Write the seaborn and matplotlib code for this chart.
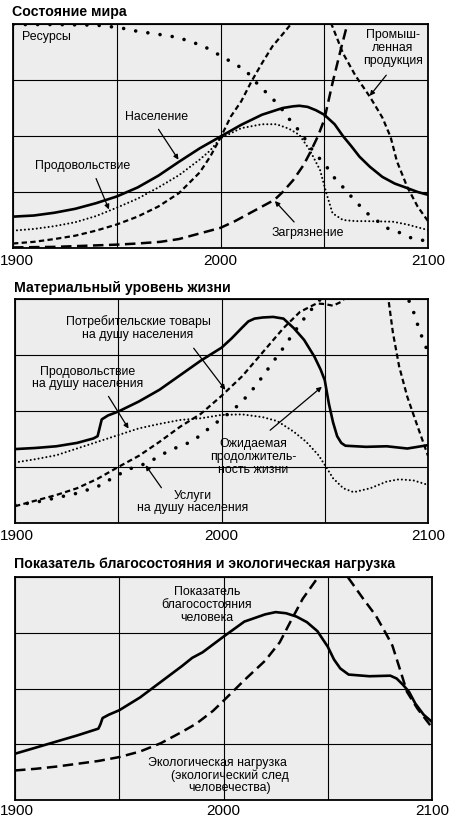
import matplotlib
matplotlib.use("Agg")
import matplotlib.pyplot as plt
import matplotlib.transforms as mtransforms
import seaborn as sns
import pandas as pd

# ---------------- data (grid units 0..4 on each panel) ----------------
# Panel 1: Состояние мира
pop_years = [1900,1910,1920,1930,1940,1950,1960,1970,1980,1990,2000,2010,2020,2030,2035,2038,2042,2046,2050,2055,2059,2063,2067,2072,2078,2084,2090,2095,2100]
pop_vals  = [0.56,0.58,0.63,0.70,0.80,0.92,1.08,1.29,1.54,1.78,1.99,2.20,2.38,2.50,2.53,2.54,2.52,2.46,2.38,2.21,2.00,1.82,1.63,1.45,1.27,1.15,1.07,1.00,0.95]

food_years = [1900,1910,1920,1930,1940,1950,1960,1970,1980,1990,1995,2000,2010,2020,2027,2033,2038,2043,2048,2051,2054,2059,2065,2070,2083,2090,2096,2100]
food_vals  = [0.31,0.34,0.39,0.46,0.57,0.72,0.88,1.08,1.30,1.58,1.74,1.96,2.14,2.21,2.21,2.13,2.02,1.75,1.39,0.98,0.62,0.50,0.48,0.48,0.47,0.42,0.36,0.32]

ind_years = [1900,1910,1920,1930,1940,1950,1960,1970,1980,1990,1995,2000,2005,2010,2015,2020,2025,2030,2034,2040,2046,2050,2054,2059,2065,2072,2078,2082,2085,2090,2095,2100]
ind_vals  = [0.08,0.11,0.16,0.22,0.31,0.42,0.56,0.74,0.98,1.35,1.63,1.97,2.35,2.62,2.98,3.30,3.60,3.82,4.00,4.50,4.60,4.30,3.95,3.48,3.08,2.70,2.33,1.98,1.55,1.09,0.74,0.48]

res_years = [1900,1920,1940,1950,1955,1961,1968,1974,1980,1986,1991,1996,2001,2006,2012,2016,2020,2025,2029,2032,2036,2040,2043,2047,2051,2054,2058,2062,2066,2070,2080,2086,2091,2097,2100]
res_vals  = [3.99,3.99,3.98,3.94,3.91,3.86,3.83,3.79,3.76,3.67,3.63,3.51,3.42,3.30,3.18,3.00,2.85,2.67,2.51,2.35,2.18,1.99,1.81,1.63,1.46,1.29,1.13,0.96,0.80,0.64,0.36,0.28,0.19,0.14,0.12]

pol_years = [1900,1920,1935,1950,1960,1971,1980,1990,2000,2007,2014,2020,2026,2030,2035,2040,2043,2047,2050,2054,2058,2061,2065]
pol_vals  = [0.01,0.02,0.04,0.06,0.08,0.11,0.16,0.26,0.36,0.48,0.62,0.74,0.86,1.00,1.21,1.48,1.69,2.00,2.29,2.95,3.55,3.98,4.60]

# Panel 2: Материальный уровень жизни
cg_years = [1900,1910,1920,1930,1938,1940,1941,1942,1945,1950,1960,1970,1980,1990,2000,2005,2010,2013,2016,2020,2025,2030,2035,2040,2045,2048,2050,2052,2054,2056,2058,2060,2070,2080,2090,2095,2100]
cg_vals  = [1.32,1.34,1.37,1.43,1.51,1.55,1.70,1.85,1.92,1.99,2.17,2.38,2.64,2.90,3.13,3.30,3.49,3.60,3.65,3.67,3.68,3.65,3.48,3.27,2.97,2.74,2.55,2.13,1.80,1.55,1.43,1.38,1.36,1.37,1.33,1.36,1.39]

fpc_years = [1900,1910,1920,1930,1940,1950,1960,1970,1980,1990,2000,2010,2020,2027,2035,2041,2047,2051,2054,2059,2064,2072,2080,2086,2093,2100]
fpc_vals  = [1.08,1.14,1.21,1.33,1.45,1.57,1.69,1.77,1.84,1.87,1.93,1.94,1.89,1.82,1.63,1.45,1.21,0.98,0.80,0.62,0.55,0.62,0.74,0.78,0.76,0.68]

srv_years = [1900,1910,1920,1930,1940,1950,1960,1970,1980,1990,2000,2010,2020,2030,2038,2046,2050,2054,2058,2062,2070,2078,2081,2083,2086,2090,2095,2100]
srv_vals  = [0.30,0.40,0.50,0.62,0.79,1.00,1.20,1.45,1.72,1.95,2.27,2.62,3.05,3.48,3.77,3.92,3.91,3.88,3.95,4.10,4.50,4.30,3.95,3.40,2.80,2.25,1.72,1.20]

le_years = [1900,1910,1920,1930,1940,1950,1955,1964,1975,1986,1996,2005,2010,2015,2020,2025,2030,2035,2040,2045,2048,2055,2065,2075,2085,2089,2091,2093,2095,2097,2100]
le_vals  = [0.32,0.37,0.45,0.53,0.65,0.86,0.96,1.07,1.30,1.46,1.75,2.00,2.17,2.38,2.62,2.88,3.13,3.40,3.65,3.88,4.00,4.40,4.60,4.60,4.40,4.10,3.95,3.77,3.54,3.33,3.05]

# Panel 3: Показатель благосостояния и экологическая нагрузка
hw_years = [1900,1910,1920,1930,1940,1941,1942,1945,1950,1960,1970,1980,1985,1990,2000,2010,2020,2025,2030,2035,2040,2045,2050,2053,2056,2060,2070,2080,2083,2086,2089,2092,2096,2100]
hw_vals  = [0.83,0.94,1.05,1.16,1.28,1.36,1.47,1.53,1.61,1.84,2.12,2.40,2.55,2.65,2.93,3.20,3.33,3.37,3.35,3.29,3.19,3.03,2.75,2.52,2.36,2.25,2.22,2.23,2.18,2.07,1.94,1.73,1.53,1.40]

ef_years = [1900,1910,1920,1930,1940,1950,1960,1970,1980,1987,1995,2000,2010,2020,2027,2032,2038,2046,2050,2055,2059,2067,2073,2078,2081,2085,2088,2093,2100]
ef_vals  = [0.53,0.56,0.60,0.65,0.70,0.77,0.87,1.02,1.22,1.37,1.60,1.78,2.15,2.50,2.83,3.19,3.61,4.03,4.30,4.30,4.03,3.61,3.31,2.98,2.77,2.30,1.94,1.64,1.30]

x_tick_labels = ["1900", "2000", "2100"]
titles = ["Состояние мира", "Материальный уровень жизни",
          "Показатель благосостояния и экологическая нагрузка"]

# ---------------- style ----------------
sns.set_theme(style="white")
plt.rcParams["font.family"] = ["Liberation Sans", "DejaVu Sans"]
plt.rcParams["axes.unicode_minus"] = False

W, H = 451, 818
fig = plt.figure(figsize=(W / 100, H / 100), dpi=100)
fig.patch.set_facecolor("white")

def fx(x):
    return x / W

def fy(y):
    return 1 - y / H

def make_ax(left, top, right, bottom, pad=4.5):
    ax = fig.add_axes([fx(left), fy(bottom), (right - left) / W, (bottom - top) / H])
    ax.set_facecolor("#ededed")
    ax.set_xlim(1900, 2100)
    ax.set_ylim(0, 4)
    ax.set_xticks([1900, 1950, 2000, 2050, 2100])
    ax.set_xticklabels([x_tick_labels[0], "", x_tick_labels[1], "", x_tick_labels[2]])
    ax.set_yticks([0, 1, 2, 3, 4])
    ax.set_yticklabels([])
    ax.grid(True, color="black", lw=0.8)
    ax.tick_params(axis="both", length=0, pad=pad, labelsize=11, colors="black")
    for s in ax.spines.values():
        s.set_color("black")
        s.set_linewidth(1.3)
    # keep the first year label just inside the figure edge
    first = ax.get_xticklabels()[0]
    shift = (17 - left) / 100.0
    first.set_transform(first.get_transform() +
                        mtransforms.ScaledTranslation(shift, 0, fig.dpi_scale_trans))
    ax.set_xlabel("")
    ax.set_ylabel("")
    return ax

STY = {
    "solid":  dict(lw=1.9, linestyle="-", solid_capstyle="round"),
    "dot":    dict(lw=1.5, linestyle=(0, (0.01, 1.9)), dash_capstyle="round"),
    "bigdot": dict(lw=2.6, linestyle=(0, (0.01, 3.4)), dash_capstyle="round"),
    "dash":   dict(lw=1.6, linestyle=(0, (2.4, 1.5)), dash_capstyle="butt"),
    "ldash":  dict(lw=1.8, linestyle=(0, (4.2, 2.2)), dash_capstyle="butt"),
}

def draw(ax, years, vals, style):
    df = pd.DataFrame({"year": years, "value": vals})
    sns.lineplot(data=df, x="year", y="value", ax=ax, color="black",
                 errorbar=None, legend=False, **STY[style])
    ax.set_xlabel("")
    ax.set_ylabel("")

LAB = dict(fontsize=8.9, color="black", linespacing=1.1)
TITLE = dict(ha="left", va="center", fontsize=10.2, fontweight="bold", color="black")

def label(x, y, s, ha="center"):
    fig.text(fx(x), fy(y), s, ha=ha, va="center", **LAB)

def arrow(x0, y0, x1, y1):
    fig.add_artist(matplotlib.patches.FancyArrowPatch(
        (fx(x0), fy(y0)), (fx(x1), fy(y1)), transform=fig.transFigure,
        arrowstyle="-|>", mutation_scale=7, lw=0.9, color="black"))

# ---------------- panel 1 ----------------
ax1 = make_ax(13, 24, 428, 248)
draw(ax1, res_years, res_vals, "bigdot")
draw(ax1, pol_years, pol_vals, "ldash")
draw(ax1, ind_years, ind_vals, "dash")
draw(ax1, food_years, food_vals, "dot")
draw(ax1, pop_years, pop_vals, "solid")
fig.text(fx(12), fy(12), titles[0], **TITLE)
label(22, 37, "Ресурсы", ha="left")
label(157, 117, "Население")
arrow(157, 127, 180, 162)
label(83, 166, "Продовольствие")
arrow(95, 176, 110, 212)
label(393, 48, "Промыш-\nленная\nпродукция")
arrow(388, 73, 368, 98)
label(308, 233, "Загрязнение")
arrow(296, 224, 273, 199)

# ---------------- panel 2 ----------------
ax2 = make_ax(15, 299, 428, 523)
draw(ax2, le_years, le_vals, "bigdot")
draw(ax2, srv_years, srv_vals, "dash")
draw(ax2, fpc_years, fpc_vals, "dot")
draw(ax2, cg_years, cg_vals, "solid")
fig.text(fx(14), fy(288), titles[1], **TITLE)
label(138, 328, "Потребительские товары\nна душу населения")
arrow(192, 346, 227, 392)
label(88, 378, "Продовольствие\nна душу населения")
arrow(107, 394, 130, 431)
label(253, 457, "Ожидаемая\nпродолжитель-\nность жизни")
arrow(268, 432, 324, 385)
label(193, 502, "Услуги\nна душу населения")
arrow(163, 490, 144, 463)

# ---------------- panel 3 ----------------
ax3 = make_ax(15, 577, 432, 800, pad=3.0)
draw(ax3, ef_years, ef_vals, "ldash")
draw(ax3, hw_years, hw_vals, "solid")
fig.text(fx(14), fy(564), titles[2], **TITLE)
label(207, 605, "Показатель\nблагосостояния\nчеловека")
label(217, 763, "Экологическая нагрузка")
label(230, 776, "(экологический след")
label(230, 788, "человечества)")

fig.savefig("out.png", dpi=100)
